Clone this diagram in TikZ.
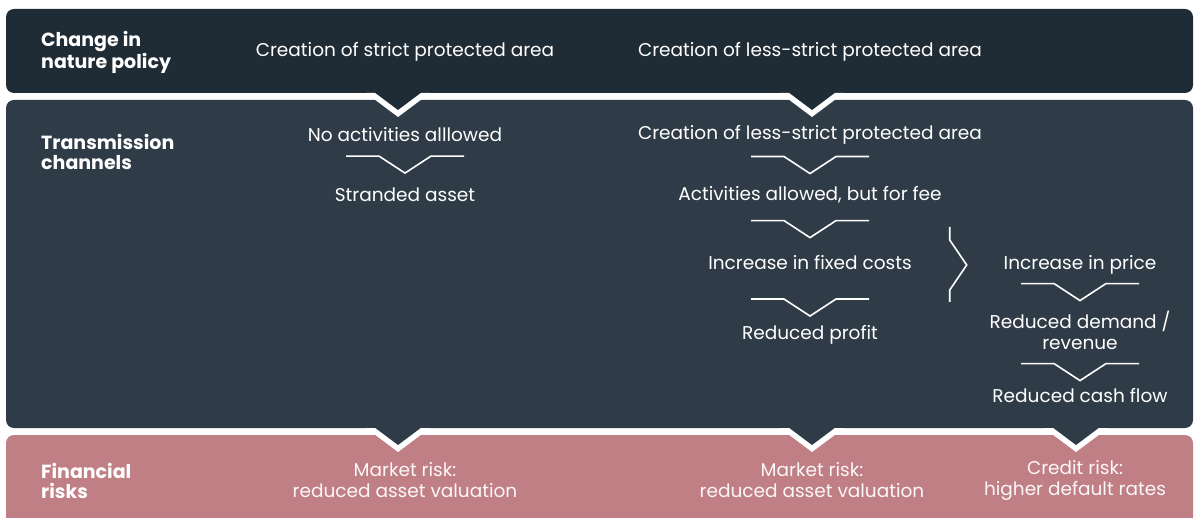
\documentclass[tikz,border=0pt]{standalone}
\usepackage{fontspec}
\setmainfont{Poppins}
\usetikzlibrary{calc}

\definecolor{policybg}{RGB}{32,44,53}
\definecolor{channelbg}{RGB}{47,60,71}
\definecolor{riskbg}{RGB}{192,127,133}

\tikzset{
    head/.style={font=\bfseries\fontsize{19}{20}\selectfont, text=white, align=left, anchor=west, inner sep=0pt, yshift=-2.5pt},
    lbl/.style={font=\fontsize{18.5}{21}\selectfont, text=white, align=center, inner sep=2pt, yshift=-2pt},
    chev/.style={white, line width=1.6pt},
}

% chevron between two stacked labels
\newcommand{\chevron}[3][0.5]{%
    \draw[chev] ($(#2.south)!#1!(#3.north)$) ++(-59,-9) -- ++(33,0) -- ++(26,17) -- ++(26,-17) -- ++(33,0);
}
% pointed tab of an upper band reaching into the next one
\newcommand{\bandtab}[3]{%
    \fill[white] (#1-32,#2) -- (#1,#2+24) -- (#1+32,#2) -- cycle;
    \fill[#3] (#1-24,#2-1) -- (#1,#2+17) -- (#1+24,#2-1) -- cycle;
}

\begin{document}
\begin{tikzpicture}[x=1pt,y=-1pt]
    \useasboundingbox (0,0) rectangle (1194,518);

    % bands
    \fill[riskbg, rounded corners=8pt] (6,435) rectangle (1193,540);
    \fill[channelbg, rounded corners=8pt] (6,100) rectangle (1193,428);
    \fill[policybg, rounded corners=8pt] (6,9) rectangle (1193,93);
    \foreach \x in {398,812}
        {\bandtab{\x}{93}{policybg}}
    \foreach \x in {398,812,1076}
        {\bandtab{\x}{428}{channelbg}}

    % row titles
    \node[head] (policy) at (41,50) {Change in\\nature policy};
    \node[head] (channels) at (41,149) {Transmission\\channels};
    \node[head] (risks) at (41,478) {Financial\\risks};

    % change in nature policy
    \node[lbl] (strict) at (405,50) {Creation of strict protected area};
    \node[lbl] (lessstrict) at (810,50) {Creation of less-strict protected area};

    % transmission channels
    \node[lbl] (noact) at (405,133) {No activities alllowed};
    \node[lbl] (stranded) at (405,193) {Stranded asset};
    \node[lbl] (lessarea) at (810,133) {Creation of less-strict protected area};
    \node[lbl] (fee) at (810,193) {Activities allowed, but for fee};
    \node[lbl] (fixed) at (810,261) {Increase in fixed costs};
    \node[lbl] (profit) at (810,333) {Reduced profit};
    \node[lbl] (price) at (1080,263) {Increase in price};
    \node[lbl] (demand) at (1080,328) {Reduced demand /\\revenue};
    \node[lbl] (cash) at (1080,394) {Reduced cash flow};

    \chevron{noact}{stranded}
    \chevron{lessarea}{fee}
    \chevron{fee}{fixed}
    \chevron[0.7]{fixed}{profit}
    \chevron{price}{demand}
    \chevron[0.6]{demand}{cash}

    % brace from fixed costs over to price
    \coordinate (brace) at ($(fixed.east)!0.5!(price.west)$);
    \draw[chev] (brace) ++(-8,-37) -- ++(0,13) -- ++(17,25) -- ++(-17,25) -- ++(0,12);

    % financial risks
    \node[lbl, text=white!94!riskbg] (market1) at (405,478) {Market risk:\\reduced asset valuation};
    \node[lbl, text=white!94!riskbg] (market2) at (812,478) {Market risk:\\reduced asset valuation};
    \node[lbl, text=white!94!riskbg] (credit) at (1075,478) {Credit risk:\\higher default rates};
\end{tikzpicture}
\end{document}
